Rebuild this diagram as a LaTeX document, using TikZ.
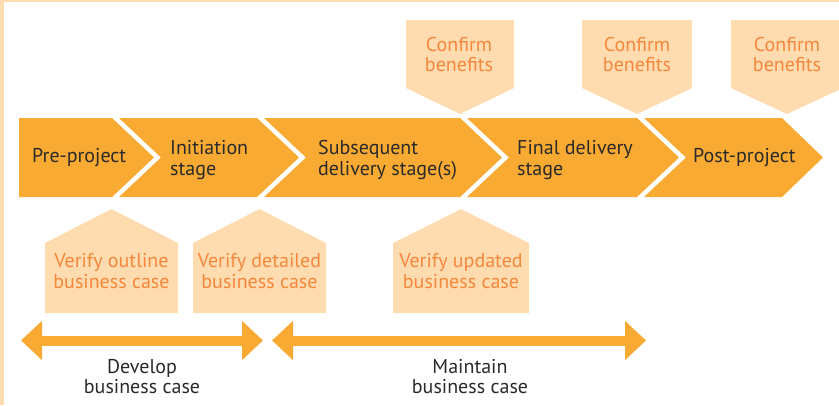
\documentclass[tikz,border=0pt]{standalone}
\usepackage{fontspec}
\setmainfont{PT Sans}
\usetikzlibrary{arrows.meta}
\definecolor{chev}{HTML}{F9AA32}
\definecolor{pale}{HTML}{FEDCB0}
\definecolor{otext}{HTML}{F5873B}
\definecolor{dtext}{HTML}{2A2A2A}
\tikzset{
  chevron/.style={fill=chev, draw=none},
  palebox/.style={fill=pale, draw=none},
  stagetext/.style={text=dtext, inner sep=0pt, align=left, anchor=base west, font=\fontsize{20}{21}\selectfont},
  checktext/.style={text=otext, inner sep=0pt, align=center, anchor=base, font=\fontsize{20}{20.5}\selectfont},
  spantext/.style={text=dtext, inner sep=0pt, align=center, anchor=base, font=\fontsize{20}{19.5}\selectfont},
  spanarrow/.style={draw=chev, line width=10pt, {Triangle[length=21pt,width=38pt]}-{Triangle[length=21pt,width=38pt]}},
}
\begin{document}
\begin{tikzpicture}[x=1pt,y=-1pt]
\useasboundingbox (0,0) rectangle (839,405);
% frame
\fill[pale] (0,0) rectangle (4,405);
\fill[pale] (0,0) rectangle (839,1.5);
% chevrons
\fill[chevron] (19,118) -- (112,118) -- (154,157.5) -- (112,197) -- (19,197) -- cycle;
\fill[chevron] (119,118) -- (257,118) -- (299,157.5) -- (257,197) -- (119,197) -- (161,157.5) -- cycle;
\fill[chevron] (264,118) -- (460,118) -- (502,157.5) -- (460,197) -- (264,197) -- (306,157.5) -- cycle;
\fill[chevron] (467,118) -- (637,118) -- (679,157.5) -- (637,197) -- (467,197) -- (509,157.5) -- cycle;
\fill[chevron] (644,118) -- (782,118) -- (823,157.5) -- (782,197) -- (644,197) -- (686,157.5) -- cycle;
% confirm boxes
\fill[palebox] (406,20) -- (514,20) -- (514,88) -- (460,114) -- (406,88) -- cycle;
\fill[palebox] (582,20) -- (692,20) -- (692,88) -- (637,114) -- (582,88) -- cycle;
\fill[palebox] (731,20) -- (843,20) -- (843,88) -- (787,114) -- (731,88) -- cycle;
% verify boxes
\fill[palebox] (45,313) -- (45,243) -- (111.5,209) -- (178,243) -- (178,313) -- cycle;
\fill[palebox] (193,313) -- (193,243) -- (259.5,209) -- (326,243) -- (326,313) -- cycle;
\fill[palebox] (393,313) -- (393,243) -- (461,209) -- (529,243) -- (529,313) -- cycle;
% stage texts (base anchor = last line baseline)
\node[stagetext] (pre) at (32,162.5) {Pre-project};
\node[stagetext] (ini) at (170,175) {Initiation\\stage};
\node[stagetext] (sub) at (318,175) {Subsequent\\delivery stage(s)};
\node[stagetext] (fin) at (517,175) {Final delivery\\stage};
\node[stagetext] (post) at (693,162.5) {Post-project};
% confirm texts
\node[checktext] (cb1) at (459,71.5) {Confirm\\benefits};
\node[checktext] (cb2) at (637,71.5) {Confirm\\benefits};
\node[checktext] (cb3) at (787,71.5) {Confirm\\benefits};
% verify texts
\node[checktext] (vo) at (111.5,288) {Verify outline\\business case};
\node[checktext] (vd) at (259.5,288) {Verify detailed\\business case};
\node[checktext] (vu) at (461,288) {Verify updated\\business case};
% span arrows
\coordinate (devL) at (21,340.5);
\coordinate (devR) at (263,340.5);
\coordinate (maiL) at (272,340.5);
\coordinate (maiR) at (646,340.5);
\draw[spanarrow] (devL) -- (devR);
\draw[spanarrow] (maiL) -- (maiR);
\node[spantext] (dev) at (142,393) {Develop\\business case};
\node[spantext] (mai) at (470,393) {Maintain\\business case};
\end{tikzpicture}
\end{document}
